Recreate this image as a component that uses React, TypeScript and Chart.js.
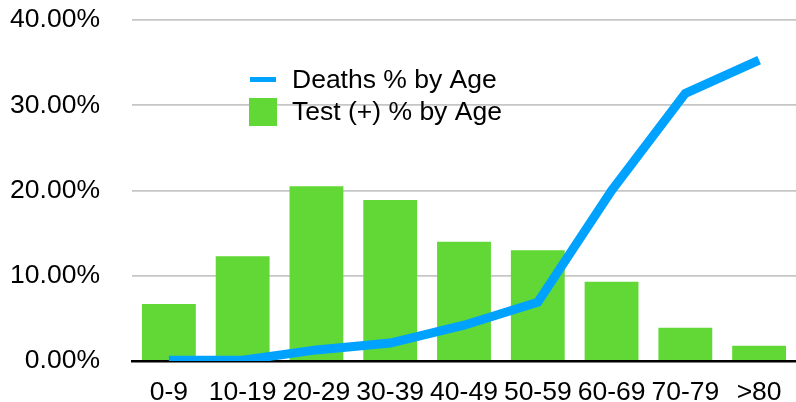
import React, { useEffect, useRef } from "react";
import { Chart, registerables } from "chart.js";

Chart.register(...registerables);

const categories = ["0-9", "10-19", "20-29", "30-39", "40-49", "50-59", "60-69", "70-79", ">80"];
const testPositive = [6.7, 12.3, 20.5, 18.9, 14.0, 13.0, 9.3, 3.9, 1.8];
const deaths = [0.1, 0.1, 1.3, 2.1, 4.2, 6.9, 20.0, 31.4, 35.3];
const yTicks = [0, 10, 20, 30, 40];

const FONT = "'Liberation Sans', Arial, Helvetica, sans-serif";
const BLUE = "#00A2FF";
const GREEN = "#61D836";

const legendPlugin = {
  id: "insideLegend",
  afterDraw(chart: any) {
    const ctx = chart.ctx;
    const ds = chart.data.datasets;
    ctx.save();
    ctx.font = `26.5px ${FONT}`;
    ctx.textBaseline = "middle";
    ctx.textAlign = "left";
    ctx.fillStyle = "#000";
    const line = ds[0];
    ctx.strokeStyle = line.borderColor;
    ctx.lineWidth = 5;
    ctx.lineCap = "butt";
    ctx.beginPath();
    ctx.moveTo(250, 79.5);
    ctx.lineTo(276, 79.5);
    ctx.stroke();
    ctx.fillText(line.label, 292, 80.5);
    const bar = ds[1];
    ctx.fillStyle = bar.backgroundColor;
    ctx.fillRect(249, 98, 28, 28);
    ctx.fillStyle = "#000";
    ctx.fillText(bar.label, 292, 112.5);
    ctx.restore();
  },
};

export default function App() {
  const ref = useRef<HTMLCanvasElement | null>(null);
  useEffect(() => {
    if (!ref.current) return;
    const chart = new Chart(ref.current, {
      type: "bar",
      data: {
        labels: categories,
        datasets: [
          {
            type: "line",
            label: "Deaths % by Age",
            data: deaths,
            borderColor: BLUE,
            backgroundColor: BLUE,
            borderWidth: 9,
            borderCapStyle: "butt",
            borderJoinStyle: "miter",
            pointRadius: 0,
            tension: 0,
            order: 0,
          } as any,
          {
            type: "bar",
            label: "Test (+) % by Age",
            data: testPositive,
            backgroundColor: GREEN,
            borderWidth: 0,
            categoryPercentage: 1,
            barPercentage: 0.73,
            order: 1,
          },
        ],
      },
      options: {
        responsive: false,
        animation: false,
        layout: { padding: { top: 20, left: 0, right: 0, bottom: 0 } },
        plugins: {
          legend: { display: false },
          tooltip: { enabled: false },
        },
        scales: {
          x: {
            offset: true,
            grid: { display: false, drawTicks: false },
            border: { display: true, color: "#000", width: 2.5 },
            ticks: {
              color: "#000",
              font: { family: FONT, size: 26.5 },
              padding: 15.5,
              maxRotation: 0,
              autoSkip: false,
            },
            afterFit: (s: any) => {
              s.height = 41;
              s.paddingLeft = 0;
              s.paddingRight = 0;
            },
          },
          y: {
            min: 0,
            max: 40,
            afterBuildTicks: (s: any) => {
              s.ticks = yTicks.map((v) => ({ value: v }));
            },
            grid: {
              drawTicks: false,
              color: (c: any) => (c.tick && c.tick.value === 0 ? "rgba(0,0,0,0)" : "#c6c6c6"),
              lineWidth: 1.8,
            },
            border: { display: false },
            ticks: {
              color: "#000",
              font: { family: FONT, size: 26.5 },
              padding: 32,
              callback: (v: any) => Number(v).toFixed(2) + "%",
            },
            afterFit: (s: any) => {
              s.width = 132;
              s.paddingTop = 0;
              s.paddingBottom = 0;
            },
          },
        },
      },
      plugins: [legendPlugin],
    });
    return () => chart.destroy();
  }, []);
  return (
    <div style={{ position: "absolute", left: 0, top: 0, width: 796, height: 402, background: "#fff" }}>
      <canvas ref={ref} width={796} height={402} />
    </div>
  );
}
